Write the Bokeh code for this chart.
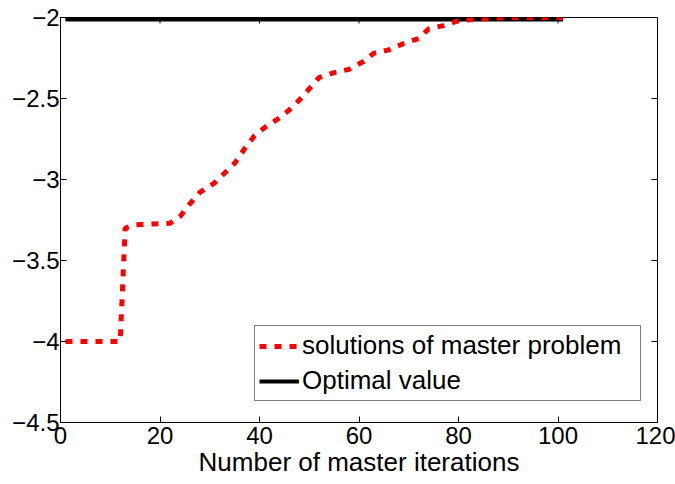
import math
from bokeh.plotting import figure
from bokeh.models import LinearAxis, FixedTicker, Legend, LegendItem, Range1d
from bokeh.embed import file_html
from bokeh.resources import INLINE

# data
iters = [1, 12, 13, 15, 22, 24, 26, 28, 31, 33, 35, 37, 39, 41, 44, 46, 48,
         50, 52, 55, 58, 61, 63, 66, 69, 72, 74, 77, 80, 84, 90, 101]
master = [-4.0, -4.0, -3.30, -3.28, -3.27, -3.23, -3.15, -3.08, -3.02, -2.96,
          -2.90, -2.81, -2.73, -2.68, -2.62, -2.57, -2.51, -2.44, -2.37, -2.34,
          -2.32, -2.27, -2.22, -2.20, -2.16, -2.13, -2.07, -2.05, -2.02, -2.01,
          -2.0, -2.0]
opt_x = [1, 101]
opt_y = [-2.0, -2.0]
x_lim = [0, 120]
y_lim = [-4.5, -2.0]
x_ticks = [0, 20, 40, 60, 80, 100, 120]
y_ticks = [-4.5, -4.0, -3.5, -3.0, -2.5, -2.0]
y_labels = ["\u22124.5", "\u22124", "\u22123.5", "\u22123", "\u22122.5", "\u22122"]

FONT = "Liberation Sans"
TICK_FS = "24px"
LABEL_FS = "26px"

p = figure(width=675, height=484, output_backend="svg", toolbar_location=None,
           x_range=Range1d(*x_lim), y_range=Range1d(*y_lim),
           min_border_left=60, min_border_right=18, min_border_top=17,
           min_border_bottom=62, x_axis_type=None, y_axis_type=None)
p.background_fill_color = "white"
p.border_fill_color = "white"
p.outline_line_color = "black"
p.outline_line_width = 1
p.grid.visible = False

def style(ax, ticks):
    ax.ticker = FixedTicker(ticks=ticks)
    ax.major_tick_in = 6
    ax.major_tick_out = 0
    ax.minor_tick_in = 0
    ax.minor_tick_out = 0
    ax.axis_line_color = "black"
    ax.major_tick_line_color = "black"
    ax.major_label_text_font = FONT
    ax.major_label_text_color = "black"
    ax.major_label_text_font_size = TICK_FS

xb = LinearAxis()
style(xb, x_ticks)
xb.major_label_standoff = 4
xb.axis_label = "Number of master iterations"
xb.axis_label_text_font = FONT
xb.axis_label_text_font_size = LABEL_FS
xb.axis_label_text_font_style = "normal"
xb.axis_label_text_color = "black"
xb.axis_label_standoff = 0
p.add_layout(xb, "below")

yl = LinearAxis()
style(yl, y_ticks)
yl.major_label_standoff = 1
yl.major_label_overrides = {t: l for t, l in zip(y_ticks, y_labels)}
p.add_layout(yl, "left")

# inward ticks on the top and right edges of the box
p.ray(x=x_ticks, y=[y_lim[1]] * len(x_ticks), length=6, length_units="screen",
      angle=-math.pi / 2, line_color="black", line_width=1)
p.ray(x=[x_lim[1]] * len(y_ticks), y=y_ticks, length=6, length_units="screen",
      angle=math.pi, line_color="black", line_width=1)

# the optimal line sits on the top edge; the frame clips half of it, so draw it wider
p.line(opt_x, opt_y, line_color="black", line_width=8)
r_opt = p.line(opt_x, opt_y, line_color="black", line_width=4)
r_m = p.line(iters, master, line_color="red", line_width=5, line_dash="7 8")

legend = Legend(items=[LegendItem(label="solutions of master problem", renderers=[r_m]),
                       LegendItem(label="Optimal value", renderers=[r_opt])],
                location=(194, 21))
legend.label_text_font = FONT
legend.label_text_font_size = LABEL_FS
legend.label_text_color = "black"
legend.glyph_width = 40
legend.glyph_height = 20
legend.label_height = 30
legend.label_width = 334
legend.spacing = 4
legend.padding = 4
legend.margin = 0
legend.label_standoff = 3
legend.border_line_color = "black"
legend.border_line_width = 1
legend.background_fill_alpha = 1
p.add_layout(legend, "center")

open("out.html", "w").write(file_html(p, INLINE))
